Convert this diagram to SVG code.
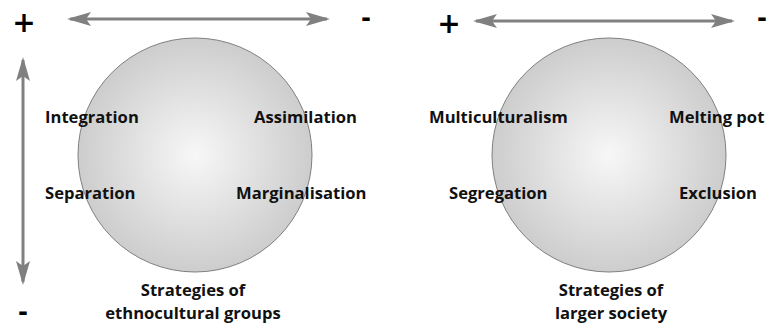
<svg xmlns="http://www.w3.org/2000/svg" width="770" height="326" viewBox="0 0 770 326">
<style>
.lbl{font-family:"Open Sans","Liberation Sans",sans-serif;font-weight:700;font-size:16.6px;fill:#111}
.cap{font-family:"Open Sans","Liberation Sans",sans-serif;font-weight:700;font-size:16.6px;fill:#111;text-anchor:middle}
.plus{font-family:"DejaVu Sans",sans-serif;font-weight:700;font-size:28px;fill:#000;text-anchor:middle}
.minus{font-family:"DejaVu Sans",sans-serif;font-weight:700;font-size:24px;fill:#000;text-anchor:middle}
.ball{fill:url(#g);stroke:#808080;stroke-width:1}
.ax{stroke:#808080;stroke-width:3;fill:none}
</style>
<defs>
<radialGradient id="g" cx="0.5" cy="0.5" r="0.5">
<stop offset="0" stop-color="#f7f7f7"/>
<stop offset="1" stop-color="#cdcdcd"/>
</radialGradient>
<marker id="ah" viewBox="0 0 24 14" refX="21" refY="7" markerWidth="24" markerHeight="14" markerUnits="userSpaceOnUse" orient="auto-start-reverse">
<path d="M0,0 L24,7 L0,14 L5,7 Z" fill="#808080"/>
</marker>
</defs>
<g id="connectors">
<line class="ax" x1="70" y1="19" x2="327" y2="19" marker-start="url(#ah)" marker-end="url(#ah)"/>
<line class="ax" x1="476" y1="21" x2="732" y2="21" marker-start="url(#ah)" marker-end="url(#ah)"/>
<line class="ax" x1="23" y1="60" x2="23" y2="282" marker-start="url(#ah)" marker-end="url(#ah)"/>
</g>
<g id="signs">
<text class="plus" x="24" y="32">+</text>
<text class="minus" x="366" y="26">-</text>
<text class="plus" x="449" y="33">+</text>
<text class="minus" x="762" y="26">-</text>
<text class="minus" x="23" y="320">-</text>
</g>
<g id="circle-ethnocultural">
<circle class="ball" cx="195" cy="155" r="117"/>
<text class="lbl" x="45" y="123">Integration</text>
<text class="lbl" x="254" y="123">Assimilation</text>
<text class="lbl" x="45" y="199">Separation</text>
<text class="lbl" x="236" y="199">Marginalisation</text>
<text class="cap" x="193" y="296">Strategies of</text>
<text class="cap" x="193" y="319">ethnocultural groups</text>
</g>
<g id="circle-society">
<circle class="ball" cx="609" cy="155" r="117"/>
<text class="lbl" x="429" y="123">Multiculturalism</text>
<text class="lbl" x="669" y="123">Melting pot</text>
<text class="lbl" x="449" y="199">Segregation</text>
<text class="lbl" x="679" y="199">Exclusion</text>
<text class="cap" x="611" y="296">Strategies of</text>
<text class="cap" x="611" y="319">larger society</text>
</g>
</svg>
